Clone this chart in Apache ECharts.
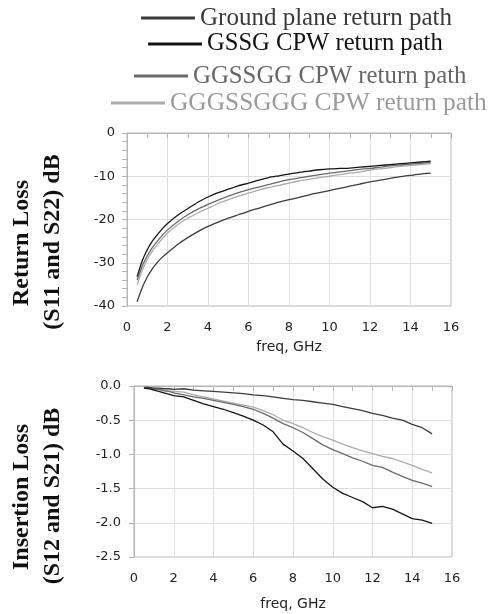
<!DOCTYPE html>
<html>
<head>
<meta charset="utf-8">
<script src="https://cdn.jsdelivr.net/npm/echarts@6/dist/echarts.min.js"></script>
<style>html,body{margin:0;padding:0;background:#fff;}#c{width:488px;height:614px;}</style>
</head>
<body>
<div id="c"></div>
<script>
var freq = [0.5,0.75,1,1.25,1.5,1.75,2,2.5,3,3.5,4,4.5,5,5.5,6,6.5,7,7.5,8,8.5,9,9.5,10,10.5,11,11.5,12,12.5,13,13.5,14,14.5,15];
var names = ['Ground plane return path','GSSG CPW return path','GGSSGG CPW return path','GGGSSGGG CPW return path'];
var lineColors = ['#3c3c3c','#151515','#6a6a6a','#ababab'];
var textColors = ['#3a3a3a','#111111','#666666','#9a9a9a'];

var rlGround = [-39.0,-35.8,-33.3,-31.4,-29.9,-28.7,-27.7,-25.8,-24.2,-22.8,-21.6,-20.6,-19.7,-18.9,-18.1,-17.4,-16.7,-16.0,-15.4,-14.9,-14.3,-13.8,-13.3,-12.8,-12.3,-11.8,-11.3,-10.9,-10.5,-10.1,-9.8,-9.5,-9.3];
var rlGSSG = [-33.2,-29.6,-27.0,-25.0,-23.5,-22.1,-20.9,-19.0,-17.5,-16.0,-14.8,-13.8,-13.0,-12.2,-11.6,-10.9,-10.3,-9.9,-9.5,-9.1,-8.8,-8.5,-8.3,-8.2,-8.1,-7.9,-7.7,-7.5,-7.3,-7.1,-6.9,-6.7,-6.5];
var rlGGSSGG = [-34.0,-30.8,-28.4,-26.5,-25.0,-23.6,-22.4,-20.5,-18.9,-17.6,-16.5,-15.5,-14.6,-13.8,-13.1,-12.5,-11.9,-11.3,-10.8,-10.4,-10.0,-9.6,-9.3,-9.0,-8.7,-8.4,-8.2,-7.9,-7.6,-7.4,-7.2,-7.0,-6.8];
var rlGGGSSGGG = [-35.1,-31.8,-29.3,-27.3,-25.8,-24.4,-23.1,-21.2,-19.7,-18.5,-17.4,-16.3,-15.4,-14.6,-13.9,-13.2,-12.6,-12.1,-11.6,-11.1,-10.7,-10.3,-10.0,-9.6,-9.3,-9.0,-8.6,-8.3,-8.0,-7.7,-7.5,-7.3,-7.1];

var ilGround = [-0.02,-0.02,-0.03,-0.03,-0.04,-0.04,-0.05,-0.04,-0.06,-0.07,-0.08,-0.09,-0.10,-0.11,-0.13,-0.14,-0.16,-0.18,-0.20,-0.21,-0.23,-0.25,-0.27,-0.30,-0.33,-0.36,-0.40,-0.43,-0.47,-0.50,-0.56,-0.61,-0.70];
var ilGSSG = [-0.03,-0.04,-0.06,-0.08,-0.10,-0.12,-0.14,-0.16,-0.21,-0.26,-0.30,-0.34,-0.39,-0.44,-0.50,-0.57,-0.67,-0.85,-0.95,-1.06,-1.21,-1.36,-1.48,-1.57,-1.63,-1.69,-1.78,-1.76,-1.80,-1.87,-1.94,-1.96,-2.01];
var ilGGSSGG = [-0.03,-0.03,-0.04,-0.05,-0.07,-0.08,-0.10,-0.13,-0.16,-0.18,-0.21,-0.24,-0.27,-0.30,-0.34,-0.40,-0.47,-0.55,-0.61,-0.68,-0.77,-0.86,-0.93,-0.99,-1.05,-1.10,-1.16,-1.19,-1.26,-1.32,-1.38,-1.42,-1.47];
var ilGGGSSGGG = [-0.03,-0.03,-0.04,-0.05,-0.06,-0.07,-0.08,-0.09,-0.13,-0.16,-0.19,-0.22,-0.25,-0.28,-0.31,-0.36,-0.42,-0.50,-0.55,-0.61,-0.68,-0.74,-0.79,-0.85,-0.90,-0.95,-0.99,-1.03,-1.06,-1.11,-1.16,-1.22,-1.27];

var rl = [rlGround, rlGSSG, rlGGSSGG, rlGGGSSGGG];
var il = [ilGround, ilGSSG, ilGGSSGG, ilGGGSSGGG];

function pairs(ys){ return freq.map(function(f,i){ return [f, ys[i]]; }); }

var axisGray = '#b5b5b5';
var gridGray = '#dedede';
var labelFont = {fontFamily:'DejaVu Sans', fontSize:13, color:'#222'};

function xAx(idx, nameGap){
  return {
    type:'value', gridIndex:idx, min:0, max:16, interval:2,
    name:'freq, GHz', nameLocation:'middle', nameGap:nameGap,
    nameTextStyle:{fontFamily:'DejaVu Sans', fontSize:14, color:'#222'},
    axisLine:{show:true, lineStyle:{color:axisGray}},
    axisTick:{show:true, length:5, lineStyle:{color:axisGray}},
    minorTick:{show:true, splitNumber:2, length:5, lineStyle:{color:axisGray}},
    axisLabel:Object.assign({margin:15}, labelFont),
    splitLine:{show:true, lineStyle:{color:gridGray}}
  };
}

var series = [];
[0,1,2,3].forEach(function(k){
  series.push({name:names[k], type:'line', xAxisIndex:0, yAxisIndex:0, data:pairs(rl[k]),
    showSymbol:false, symbol:'none', smooth:0.2, lineStyle:{width:1.3, color:lineColors[k]}, itemStyle:{color:lineColors[k]}, z:10-k});
  series.push({name:names[k], type:'line', xAxisIndex:1, yAxisIndex:1, data:pairs(il[k]),
    showSymbol:false, symbol:'none', lineStyle:{width:1.3, color:lineColors[k]}, itemStyle:{color:lineColors[k]}, z:10-k});
});

var legendLeft = [141, 148, 134, 111];
var legendTop = [4, 30, 62, 89];
var legendSize = [25, 24.6, 24.8, 25.4];
var legends = [0,1,2,3].map(function(k){
  return {
    data:[names[k]], left:legendLeft[k], top:legendTop[k], padding:0,
    icon:'rect', itemWidth:54, itemHeight:3, selectedMode:false,
    textStyle:{fontFamily:'Liberation Serif', fontSize:legendSize[k], color:textColors[k], lineHeight:28}
  };
});

function vtitle(text, x, y){
  return {type:'text', x:x, y:y, rotation:Math.PI/2,
    style:{text:text, fontFamily:'Liberation Serif', fontWeight:'bold', fontSize:24, fill:'#111', align:'center', verticalAlign:'middle'}};
}

var chart = echarts.init(document.getElementById('c'), null, {renderer:'canvas'});
chart.setOption({
  animation:false,
  backgroundColor:'#fff',
  legend:legends,
  grid:[
    {left:127, top:133, width:324, height:173, show:true, borderColor:axisGray, borderWidth:1, containLabel:false},
    {left:134, top:386, width:318, height:171, show:true, borderColor:axisGray, borderWidth:1, containLabel:false}
  ],
  xAxis:[xAx(0,34), xAx(1,40)],
  yAxis:[
    {type:'value', gridIndex:0, min:-40, max:0, interval:10,
      axisLine:{show:true, lineStyle:{color:axisGray}},
      axisTick:{show:true, length:5, lineStyle:{color:axisGray}},
      minorTick:{show:true, splitNumber:5, length:5, lineStyle:{color:axisGray}},
      axisLabel:Object.assign({margin:12}, labelFont),
      splitLine:{show:true, lineStyle:{color:gridGray}}},
    {type:'value', gridIndex:1, min:-2.5, max:0, interval:0.5,
      axisLine:{show:true, lineStyle:{color:axisGray}},
      axisTick:{show:true, length:5, lineStyle:{color:axisGray}},
      axisLabel:Object.assign({margin:13, formatter:function(v){return v.toFixed(1);}}, labelFont),
      splitLine:{show:true, lineStyle:{color:gridGray}}}
  ],
  graphic:[
    vtitle('Return Loss', 22, 243),
    vtitle('(S11 and S22) dB', 53, 242),
    vtitle('Insertion Loss', 22, 497),
    vtitle('(S12 and S21) dB', 53, 496)
  ],
  series:series
});
</script>
</body>
</html>
